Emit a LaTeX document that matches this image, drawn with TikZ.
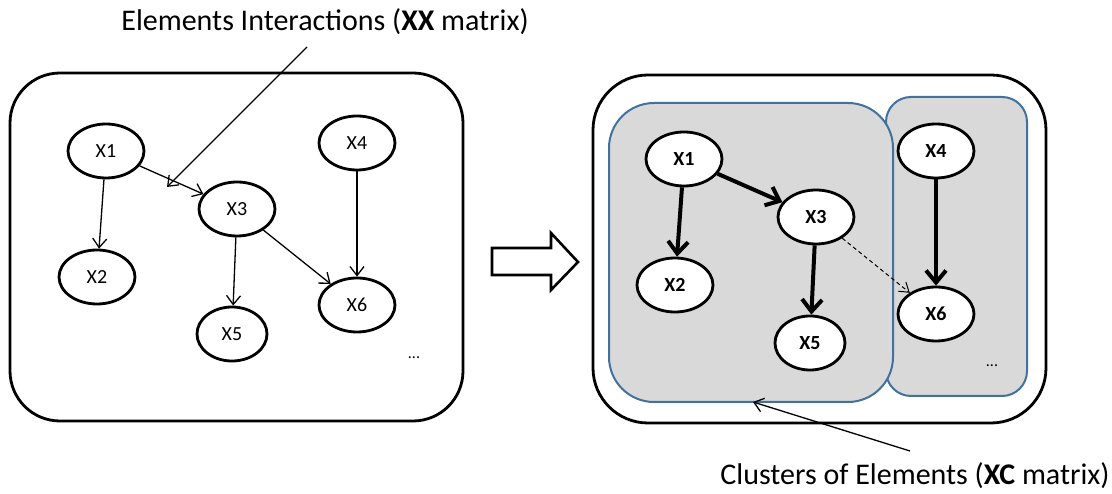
\documentclass[tikz,border=0pt]{standalone}
\usepackage{fontspec}
\setmainfont{Carlito}
\usetikzlibrary{shapes.geometric,arrows.meta}
\definecolor{clusterline}{HTML}{41719C}
\definecolor{clusterfill}{HTML}{D9D9D9}
\tikzset{
  elem/.style={ellipse, draw, line width=2.8pt, fill=white, minimum width=76pt, minimum height=54pt, inner sep=0pt, font=\fontsize{20}{22}\selectfont},
  elembold/.style={elem, font=\fontsize{20}{22}\selectfont\bfseries},
  link/.style={line width=1.3pt, -{Straight Barb[length=9pt,width=14pt]}},
  strong/.style={line width=4pt, -{Straight Barb[length=12pt,width=20pt]}},
  weak/.style={line width=1pt, dash pattern=on 4pt off 3pt, -{Straight Barb[length=9pt,width=12pt]}},
  frame/.style={draw, line width=2.8pt},
  cluster/.style={draw=clusterline, fill=clusterfill, line width=2pt},
  caption/.style={font=\fontsize{30}{33}\selectfont},
}

\begin{document}
\begin{tikzpicture}[x=1pt, y=-1pt]
  \useasboundingbox (0,0) rectangle (1112,494);

  % left: element interactions
  \draw[frame, rounded corners=50pt] (10,73) rectangle (463,421);
  \node[elem] (a1) at (106,151) {X1};
  \node[elem] (a2) at (97,277)  {X2};
  \node[elem] (a3) at (237,209) {X3};
  \node[elem] (a4) at (357,143) {X4};
  \node[elem, minimum width=70pt] (a5) at (232,334) {X5};
  \node[elem] (a6) at (357,305) {X6};
  \node[font=\fontsize{16}{18}\selectfont] (adots) at (414,358) {...};
  \draw[link] (a1) -- (a2);
  \draw[link] (a1) -- (a3);
  \draw[link] (a3) -- (a5);
  \draw[link] (a3) -- (a6);
  \draw[link] (a4) -- (a6);

  \node[caption] (xxlabel) at (325,22) {Elements Interactions (\textbf{XX} matrix)};
  \coordinate (xxfrom) at (307,47);
  \coordinate (xxto)   at (167,187);
  \draw[link] (xxfrom) -- (xxto);

  % hollow arrow
  \draw[line width=2.6pt, line join=miter] (492,248) -- (551,248) -- (551,233) -- (578,262)
        -- (551,290) -- (551,275) -- (492,275) -- cycle;

  % right: clusters of elements
  \draw[frame, rounded corners=55pt] (593,75) rectangle (1046,423);
  \draw[cluster, rounded corners=25pt] (886,97) rectangle (1027,396);
  \draw[cluster, rounded corners=45pt] (609,103) rectangle (893,402);
  \node[elembold] (b1) at (684,159) {X1};
  \node[elembold] (b2) at (675,285) {X2};
  \node[elembold] (b3) at (816,217) {X3};
  \node[elembold] (b4) at (936,151) {X4};
  \node[elembold, minimum width=70pt] (b5) at (810,343) {X5};
  \node[elembold] (b6) at (936,314) {X6};
  \node[font=\fontsize{16}{18}\selectfont] (bdots) at (992,366) {...};
  \draw[strong] (b1) -- (b2);
  \draw[strong] (b1) -- (b3);
  \draw[strong] (b3) -- (b5);
  \draw[strong] (b4) -- (b6);
  \draw[weak] (b3) -- (b6);

  \node[caption] (xclabel) at (915,476) {Clusters of Elements (\textbf{XC} matrix)};
  \coordinate (xcfrom) at (910,451);
  \coordinate (xcto)   at (753,402);
  \draw[link] (xcfrom) -- (xcto);
\end{tikzpicture}
\end{document}
